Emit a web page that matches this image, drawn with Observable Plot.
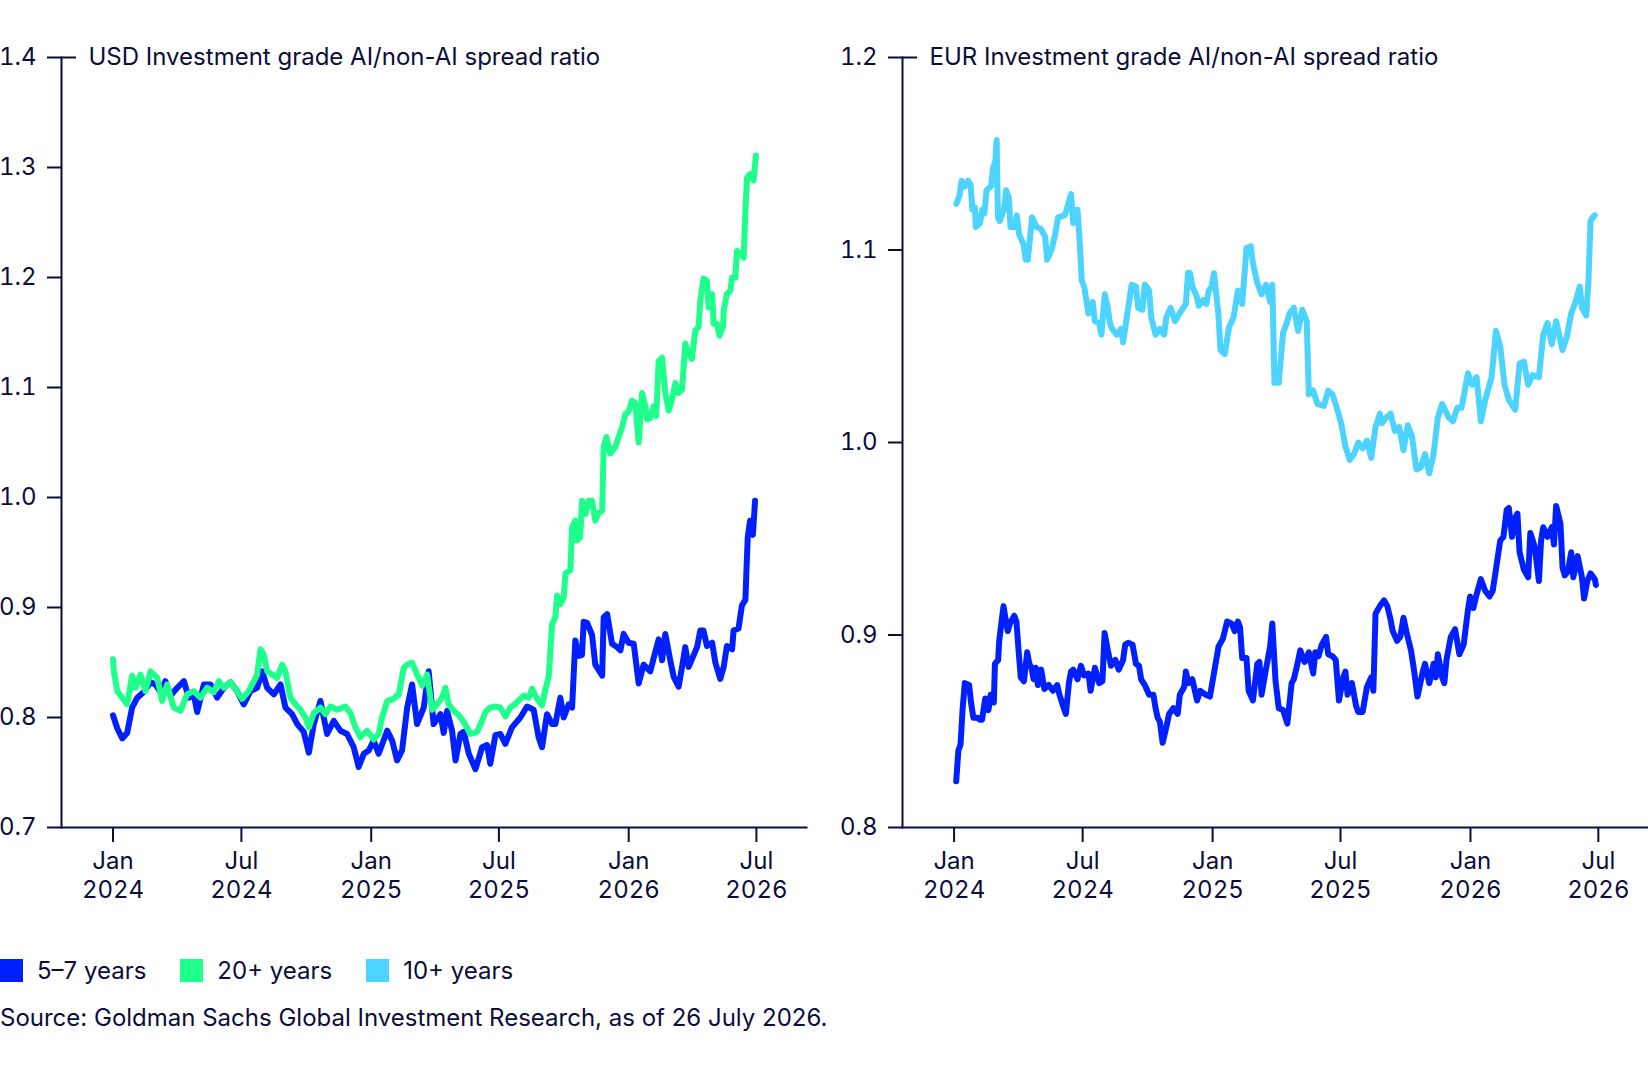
<!DOCTYPE html>
<html>
<head>
<meta charset="utf-8">
<script src="https://cdn.jsdelivr.net/npm/d3@7"></script>
<script src="https://cdn.jsdelivr.net/npm/@observablehq/plot@0.6"></script>
<style>
  html, body { margin: 0; padding: 0; background: #fff; }
  body { font-family: Inter, "Noto Sans", sans-serif; color: #0b0d3b; width: 1648px; }
  #charts { display: flex; }
  .legend { display: flex; align-items: center; height: 25px; margin-top: 38px; font-size: 24px; }
  .item { display: flex; align-items: center; margin-right: 34px; }
  .sw { width: 23px; height: 23px; margin-right: 14px; }
  .source { font-size: 24px; margin-top: 20px; }
</style>
</head>
<body>
<div id="charts"></div>
<div class="legend" id="legend"></div>
<div class="source" id="source"></div>
<script>
// ---- Data (x = months since Jan 2024, y = spread ratio) ----
const usd57 = [[0,0.802],[0.2,0.790],[0.43,0.781],[0.66,0.786],[0.89,0.809],[1.13,0.818],[1.42,0.823],[1.75,0.832],[1.98,0.830],[2.21,0.823],[2.44,0.833],[2.68,0.820],[2.99,0.827],[3.30,0.833],[3.53,0.818],[3.76,0.821],[3.92,0.805],[4.23,0.830],[4.54,0.830],[4.85,0.818],[5.16,0.827],[5.47,0.832],[5.78,0.824],[6.09,0.812],[6.40,0.824],[6.71,0.827],[6.95,0.842],[7.18,0.827],[7.49,0.821],[7.80,0.830],[8.03,0.809],[8.34,0.803],[8.58,0.794],[8.88,0.787],[9.12,0.768],[9.35,0.794],[9.66,0.815],[9.97,0.785],[10.28,0.797],[10.59,0.788],[10.90,0.785],[11.21,0.773],[11.44,0.755],[11.68,0.767],[11.91,0.770],[12.14,0.779],[12.37,0.767],[12.77,0.788],[13.0,0.779],[13.23,0.761],[13.46,0.770],[13.70,0.809],[13.93,0.830],[14.16,0.794],[14.47,0.809],[14.70,0.842],[14.93,0.794],[15.25,0.803],[15.40,0.786],[15.56,0.806],[15.79,0.788],[15.95,0.761],[16.18,0.785],[16.33,0.787],[16.57,0.767],[16.88,0.753],[17.19,0.773],[17.42,0.775],[17.57,0.758],[17.81,0.784],[18.04,0.785],[18.27,0.776],[18.58,0.791],[18.97,0.800],[19.28,0.810],[19.59,0.807],[19.82,0.782],[19.98,0.773],[20.21,0.803],[20.45,0.794],[20.60,0.794],[20.83,0.818],[20.99,0.800],[21.22,0.812],[21.38,0.809],[21.53,0.870],[21.69,0.856],[21.84,0.857],[21.92,0.887],[22.08,0.886],[22.31,0.875],[22.46,0.848],[22.78,0.838],[22.85,0.891],[23.01,0.894],[23.24,0.867],[23.47,0.864],[23.63,0.861],[23.78,0.876],[24.01,0.868],[24.25,0.867],[24.48,0.831],[24.71,0.848],[25.02,0.842],[25.18,0.854],[25.41,0.871],[25.57,0.852],[25.72,0.876],[25.95,0.852],[26.11,0.837],[26.34,0.828],[26.50,0.846],[26.65,0.864],[26.81,0.846],[27.20,0.864],[27.35,0.879],[27.50,0.879],[27.66,0.865],[27.90,0.868],[28.05,0.850],[28.28,0.835],[28.44,0.846],[28.59,0.865],[28.83,0.862],[28.90,0.879],[29.13,0.881],[29.29,0.902],[29.45,0.907],[29.50,0.934],[29.56,0.964],[29.67,0.979],[29.80,0.966],[29.90,0.997]];

const usd20 = [[0,0.853],[0.04,0.842],[0.20,0.824],[0.43,0.818],[0.66,0.812],[0.89,0.838],[1.05,0.827],[1.28,0.839],[1.51,0.824],[1.75,0.842],[2.06,0.836],[2.29,0.815],[2.52,0.830],[2.83,0.809],[3.14,0.806],[3.45,0.821],[3.76,0.824],[4.07,0.818],[4.39,0.827],[4.69,0.823],[4.93,0.833],[5.16,0.827],[5.47,0.832],[5.78,0.824],[6.01,0.817],[6.32,0.824],[6.56,0.833],[6.71,0.839],[6.87,0.862],[7.02,0.857],[7.18,0.842],[7.41,0.839],[7.64,0.836],[7.88,0.848],[8.03,0.842],[8.26,0.818],[8.50,0.812],[8.73,0.807],[8.96,0.800],[9.12,0.791],[9.35,0.804],[9.66,0.809],[9.89,0.803],[10.13,0.810],[10.44,0.807],[10.82,0.810],[11.06,0.804],[11.29,0.791],[11.52,0.782],[11.83,0.788],[12.14,0.780],[12.37,0.785],[12.53,0.800],[12.77,0.815],[13.07,0.817],[13.31,0.821],[13.54,0.845],[13.70,0.848],[13.93,0.850],[14.16,0.839],[14.40,0.829],[14.63,0.839],[14.86,0.807],[15.09,0.812],[15.33,0.818],[15.48,0.827],[15.63,0.812],[15.87,0.806],[16.10,0.802],[16.33,0.796],[16.64,0.785],[16.96,0.787],[17.19,0.797],[17.34,0.805],[17.57,0.809],[17.81,0.810],[18.04,0.809],[18.27,0.801],[18.51,0.809],[18.82,0.814],[19.13,0.820],[19.36,0.818],[19.52,0.826],[19.75,0.817],[19.98,0.811],[20.14,0.826],[20.29,0.837],[20.45,0.885],[20.60,0.891],[20.68,0.911],[20.83,0.903],[20.99,0.909],[21.07,0.931],[21.30,0.934],[21.38,0.973],[21.53,0.979],[21.61,0.961],[21.76,0.964],[21.84,0.997],[22.0,0.985],[22.15,0.997],[22.31,0.997],[22.46,0.979],[22.62,0.986],[22.78,0.988],[22.85,1.046],[22.98,1.055],[23.16,1.040],[23.39,1.046],[23.55,1.055],[23.71,1.064],[23.86,1.076],[24.01,1.078],[24.17,1.088],[24.32,1.086],[24.48,1.050],[24.64,1.095],[24.79,1.083],[24.87,1.071],[25.02,1.072],[25.18,1.083],[25.30,1.074],[25.41,1.124],[25.57,1.127],[25.72,1.095],[25.88,1.079],[26.03,1.089],[26.19,1.104],[26.34,1.095],[26.50,1.098],[26.65,1.140],[26.81,1.131],[26.96,1.126],[27.12,1.152],[27.27,1.155],[27.35,1.179],[27.50,1.199],[27.66,1.197],[27.74,1.173],[27.90,1.185],[27.97,1.158],[28.13,1.158],[28.24,1.147],[28.41,1.155],[28.44,1.170],[28.59,1.185],[28.75,1.188],[28.83,1.200],[28.98,1.200],[29.06,1.224],[29.21,1.221],[29.37,1.218],[29.45,1.261],[29.53,1.291],[29.67,1.294],[29.83,1.288],[29.94,1.311]];

const eur57 = [[0.10,0.824],[0.2,0.840],[0.3,0.843],[0.4,0.862],[0.5,0.875],[0.7,0.874],[0.8,0.864],[0.9,0.857],[1.1,0.857],[1.2,0.856],[1.3,0.856],[1.45,0.867],[1.6,0.861],[1.7,0.869],[1.85,0.865],[1.9,0.885],[2.05,0.887],[2.1,0.897],[2.2,0.906],[2.3,0.915],[2.4,0.908],[2.5,0.902],[2.6,0.906],[2.8,0.910],[2.9,0.907],[3.0,0.892],[3.1,0.878],[3.25,0.876],[3.4,0.891],[3.5,0.885],[3.6,0.883],[3.7,0.877],[3.8,0.883],[3.9,0.874],[4.05,0.882],[4.2,0.872],[4.4,0.874],[4.6,0.871],[4.8,0.874],[4.9,0.869],[5.1,0.862],[5.2,0.859],[5.34,0.875],[5.44,0.881],[5.54,0.882],[5.74,0.877],[5.9,0.884],[6.05,0.879],[6.25,0.880],[6.35,0.871],[6.55,0.883],[6.75,0.875],[6.9,0.876],[7.0,0.901],[7.15,0.892],[7.3,0.884],[7.5,0.887],[7.66,0.882],[7.86,0.887],[7.96,0.895],[8.1,0.896],[8.3,0.895],[8.46,0.885],[8.6,0.884],[8.7,0.877],[8.87,0.874],[9.07,0.869],[9.27,0.869],[9.37,0.862],[9.47,0.857],[9.57,0.855],[9.7,0.844],[9.87,0.852],[10.0,0.859],[10.2,0.862],[10.4,0.859],[10.5,0.869],[10.7,0.873],[10.78,0.881],[10.9,0.875],[11.08,0.877],[11.2,0.871],[11.3,0.866],[11.45,0.871],[11.7,0.869],[11.9,0.868],[12.1,0.881],[12.3,0.894],[12.5,0.898],[12.7,0.907],[12.9,0.906],[13.05,0.902],[13.2,0.907],[13.3,0.904],[13.4,0.888],[13.6,0.888],[13.7,0.871],[13.9,0.866],[14.1,0.885],[14.2,0.886],[14.3,0.869],[14.5,0.882],[14.7,0.894],[14.8,0.906],[14.95,0.876],[15.1,0.862],[15.3,0.861],[15.5,0.854],[15.7,0.875],[15.8,0.877],[15.95,0.884],[16.1,0.892],[16.3,0.886],[16.5,0.891],[16.7,0.880],[16.8,0.891],[16.95,0.889],[17.1,0.895],[17.3,0.899],[17.4,0.890],[17.6,0.889],[17.75,0.887],[17.9,0.866],[18.1,0.878],[18.2,0.881],[18.3,0.869],[18.5,0.875],[18.7,0.863],[18.8,0.860],[19.0,0.860],[19.2,0.873],[19.4,0.878],[19.5,0.871],[19.6,0.911],[19.8,0.915],[20.0,0.918],[20.15,0.915],[20.3,0.908],[20.4,0.902],[20.6,0.897],[20.75,0.899],[20.9,0.909],[21.05,0.901],[21.25,0.892],[21.4,0.881],[21.55,0.868],[21.8,0.881],[21.9,0.885],[22.1,0.875],[22.3,0.885],[22.4,0.878],[22.5,0.890],[22.7,0.878],[22.8,0.875],[22.9,0.887],[23.1,0.899],[23.3,0.903],[23.5,0.890],[23.7,0.895],[23.9,0.913],[24.0,0.920],[24.15,0.914],[24.3,0.921],[24.5,0.929],[24.7,0.923],[24.9,0.920],[25.05,0.923],[25.2,0.934],[25.4,0.949],[25.55,0.951],[25.7,0.965],[25.8,0.966],[25.95,0.951],[26.1,0.961],[26.2,0.963],[26.3,0.943],[26.5,0.934],[26.7,0.930],[26.8,0.953],[27.0,0.946],[27.2,0.928],[27.3,0.949],[27.4,0.956],[27.6,0.951],[27.8,0.956],[27.9,0.947],[28.0,0.967],[28.2,0.958],[28.3,0.935],[28.4,0.931],[28.55,0.933],[28.7,0.943],[28.8,0.930],[29.0,0.941],[29.2,0.930],[29.3,0.919],[29.45,0.928],[29.6,0.932],[29.8,0.929],[29.85,0.926]];

const eur10 = [[0.10,1.124],[0.25,1.128],[0.35,1.136],[0.50,1.133],[0.65,1.136],[0.77,1.134],[0.85,1.121],[0.97,1.122],[1.01,1.112],[1.21,1.114],[1.31,1.121],[1.41,1.119],[1.51,1.131],[1.72,1.133],[1.82,1.143],[1.92,1.146],[1.98,1.157],[2.04,1.117],[2.12,1.115],[2.32,1.121],[2.42,1.131],[2.55,1.127],[2.62,1.112],[2.82,1.112],[2.92,1.118],[3.03,1.108],[3.23,1.103],[3.33,1.095],[3.43,1.095],[3.63,1.117],[3.83,1.112],[4.03,1.111],[4.23,1.107],[4.33,1.095],[4.53,1.100],[4.68,1.107],[4.84,1.117],[5.14,1.118],[5.24,1.121],[5.44,1.129],[5.54,1.114],[5.74,1.121],[5.84,1.105],[5.94,1.084],[6.05,1.081],[6.25,1.067],[6.45,1.073],[6.55,1.063],[6.75,1.062],[6.85,1.056],[7.01,1.077],[7.15,1.070],[7.25,1.062],[7.35,1.059],[7.56,1.056],[7.76,1.059],[7.86,1.052],[8.06,1.067],[8.26,1.082],[8.46,1.081],[8.56,1.070],[8.76,1.069],[8.87,1.082],[9.07,1.079],[9.17,1.065],[9.37,1.056],[9.57,1.059],[9.77,1.056],[9.87,1.065],[10.07,1.070],[10.28,1.063],[10.48,1.067],[10.78,1.072],[10.88,1.088],[10.98,1.088],[11.08,1.081],[11.28,1.076],[11.38,1.071],[11.58,1.074],[11.73,1.072],[11.85,1.079],[11.98,1.081],[12.09,1.088],[12.29,1.067],[12.39,1.048],[12.59,1.046],[12.79,1.060],[13.0,1.065],[13.2,1.079],[13.4,1.072],[13.6,1.101],[13.8,1.102],[13.9,1.093],[14.1,1.083],[14.3,1.077],[14.5,1.082],[14.7,1.073],[14.8,1.082],[14.9,1.031],[15.1,1.031],[15.3,1.057],[15.5,1.063],[15.6,1.067],[15.8,1.070],[16.0,1.058],[16.2,1.069],[16.4,1.063],[16.5,1.025],[16.7,1.027],[16.9,1.020],[17.2,1.019],[17.4,1.027],[17.6,1.025],[17.8,1.018],[18.0,1.010],[18.2,0.998],[18.4,0.991],[18.6,0.994],[18.8,1.000],[19.0,0.997],[19.2,1.001],[19.4,0.992],[19.6,1.008],[19.8,1.015],[19.9,1.010],[20.1,1.013],[20.3,1.015],[20.5,1.006],[20.7,1.008],[20.9,0.996],[21.1,1.009],[21.3,1.003],[21.5,0.986],[21.7,0.987],[21.9,0.994],[22.1,0.984],[22.3,0.994],[22.5,1.013],[22.7,1.020],[23.0,1.013],[23.2,1.011],[23.4,1.018],[23.6,1.018],[23.9,1.036],[24.1,1.030],[24.3,1.034],[24.5,1.011],[24.7,1.022],[25.0,1.034],[25.2,1.058],[25.4,1.050],[25.6,1.030],[25.8,1.022],[26.1,1.017],[26.3,1.041],[26.5,1.042],[26.7,1.030],[26.9,1.035],[27.2,1.034],[27.4,1.056],[27.6,1.062],[27.8,1.051],[28.0,1.063],[28.3,1.048],[28.5,1.055],[28.7,1.067],[28.9,1.073],[29.1,1.081],[29.2,1.070],[29.4,1.066],[29.5,1.083],[29.6,1.115],[29.7,1.117],[29.8,1.118]];

const seriesNames = ["5–7 years", "20+ years", "10+ years"];
const seriesColors = ["#0020ff", "#1fff8c", "#4dd3ff"];
const titles = ["USD Investment grade AI/non-AI spread ratio", "EUR Investment grade AI/non-AI spread ratio"];
const usdTicks = [0.7, 0.8, 0.9, 1.0, 1.1, 1.2, 1.3, 1.4];
const eurTicks = [0.8, 0.9, 1.0, 1.1, 1.2];
const xTickDates = ["2024-01-01", "2024-07-01", "2025-01-01", "2025-07-01", "2026-01-01", "2026-07-01"];
const xDomainDates = ["2023-10-20", "2026-09-10"];
const sourceText = "Source: Goldman Sachs Global Investment Research, as of 26 July 2026.";

// ---- Helpers ----
const INK = "#0b0d3b";
const FS = 24;
const base = Date.UTC(2024, 0, 1);
const toDate = m => new Date(base + m * 30.4375 * 864e5);
const xTicks = xTickDates.map(d => new Date(d + "T00:00:00Z"));
const xDomain = xDomainDates.map(d => new Date(d + "T00:00:00Z"));
const fmtX = d => `${d3.utcFormat("%b")(d)}\n${d.getUTCFullYear()}`;

function panel({width, marginLeft, marginRight, ticks, title, series}) {
  const yDomain = [ticks[0], ticks[ticks.length - 1]];
  return Plot.plot({
    width, height: 920,
    marginTop: 57, marginBottom: 93, marginLeft, marginRight,
    style: {fontFamily: "Inter, 'Noto Sans', sans-serif", fontSize: FS + "px", color: INK, background: "white", overflow: "visible"},
    x: {type: "utc", domain: xDomain, axis: null},
    y: {domain: yDomain, axis: null},
    marks: [
      ...series.map(s => Plot.line(s.data, {
        x: d => toDate(d[0]), y: d => d[1],
        stroke: s.color, strokeWidth: 6, strokeLinejoin: "round", strokeLinecap: "round"
      })),
      Plot.frame({anchor: "left", stroke: INK, strokeWidth: 2}),
      Plot.frame({anchor: "bottom", stroke: INK, strokeWidth: 2}),
      Plot.axisY(ticks, {tickSize: 14, tickPadding: 11, tickFormat: d3.format(".1f"), strokeWidth: 2, fontSize: FS, label: null}),
      Plot.axisY([yDomain[1]], {tickSize: -15, tickFormat: () => "", strokeWidth: 2, label: null}),
      Plot.axisX(xTicks, {tickSize: 15, tickPadding: 6, tickFormat: fmtX, lineHeight: 1.2, strokeWidth: 2, fontSize: FS, label: null}),
      Plot.text([title], {frameAnchor: "top-left", dx: 27, textAnchor: "start", lineAnchor: "middle", fontSize: FS, fill: INK})
    ]
  });
}

const charts = document.getElementById("charts");
charts.append(panel({
  width: 824, marginLeft: 61, marginRight: 18, ticks: usdTicks, title: titles[0],
  series: [{data: usd57, color: seriesColors[0]}, {data: usd20, color: seriesColors[1]}]
}));
charts.append(panel({
  width: 824, marginLeft: 78, marginRight: 0, ticks: eurTicks, title: titles[1],
  series: [{data: eur10, color: seriesColors[2]}, {data: eur57, color: seriesColors[0]}]
}));

const legend = document.getElementById("legend");
seriesNames.forEach((name, i) => {
  const item = document.createElement("div");
  item.className = "item";
  const sw = document.createElement("div");
  sw.className = "sw";
  sw.style.background = seriesColors[i];
  const label = document.createElement("span");
  label.textContent = name;
  item.append(sw, label);
  legend.append(item);
});
document.getElementById("source").textContent = sourceText;
</script>
</body>
</html>
